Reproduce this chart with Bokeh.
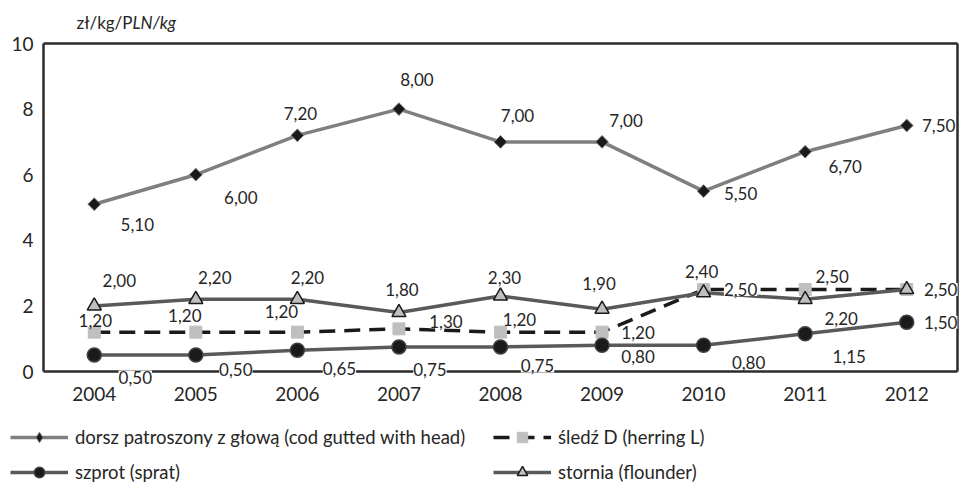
from bokeh.plotting import figure
from bokeh.models import (ColumnDataSource, LabelSet, Label, Legend, LegendItem,
                          Range1d, FixedTicker, LinearAxis)
from bokeh.core.properties import value
from bokeh.embed import file_html
from bokeh.resources import INLINE

years = ["2004", "2005", "2006", "2007", "2008", "2009", "2010", "2011", "2012"]
cod = [5.10, 6.00, 7.20, 8.00, 7.00, 7.00, 5.50, 6.70, 7.50]
herring = [1.20, 1.20, 1.20, 1.30, 1.20, 1.20, 2.50, 2.50, 2.50]
sprat = [0.50, 0.50, 0.65, 0.75, 0.75, 0.80, 0.80, 1.15, 1.50]
flounder = [2.00, 2.20, 2.20, 1.80, 2.30, 1.90, 2.40, 2.20, 2.50]
y_ticks = [0, 2, 4, 6, 8, 10]

names = {
    "cod": "dorsz patroszony z głową (cod gutted with head)",
    "herring": "śledź D (herring L)",
    "sprat": "szprot (sprat)",
    "flounder": "stornia (flounder)",
}

# data-label offsets in screen px (dx right, dy down)
off_cod = [(43, 20), (45, 23), (3, -22), (18, -30), (17, -26), (24, -21), (37, 2), (40, 15), (32, 0)]
off_flounder = [(25, -25), (19, -22), (10, -22), (3, -23), (4, -19), (-3, -26), (-2, -21), (36, 19), (34, 0)]
off_herring = [(1, -12), (-11, -17), (-16, -21), (47, -7), (19, -13), (36, 0), (37, 0), (27, -13), (34, 0)]
off_sprat = [(41, 22), (40, 14), (42, 18), (31, 23), (37, 19), (36, 11), (45, 17), (44, 23), (34, 0)]

FONT = "Lato"
TXT = "#262626"
FRAME = "#2b2b2b"

W, H = 959, 483
BOX_L, BOX_R, BOX_T, BOX_B = 43, 957, 43, 371          # plot box in px
n = len(years)
cell = (BOX_R - BOX_L) / n                              # px per category
ppu = (BOX_B - BOX_T) / 10.0                            # px per y unit
xs = list(range(n))
x_lo, x_hi = -0.5, n - 0.5                              # category band edges

p = figure(x_range=Range1d(x_lo - BOX_L / cell, x_hi + (W - BOX_R) / cell),
           y_range=Range1d(-(H - BOX_B) / ppu, 10 + BOX_T / ppu),
           width=W, height=H, output_backend="svg", toolbar_location=None,
           min_border_left=0, min_border_right=0, min_border_top=0, min_border_bottom=0)
p.background_fill_color = "white"
p.border_fill_color = "white"
p.outline_line_color = None
p.xgrid.visible = False
p.ygrid.visible = False

def style_axis(ax, labels=True):
    ax.axis_line_color = FRAME
    ax.axis_line_width = 2.5
    ax.major_tick_in = 0
    ax.major_tick_out = 0
    ax.minor_tick_in = 0
    ax.minor_tick_out = 0
    ax.major_label_text_font = FONT
    ax.major_label_text_font_size = "19px" if labels else "0px"
    ax.major_label_text_color = TXT

xa = p.xaxis[0]
ya = p.yaxis[0]
style_axis(xa)
style_axis(ya)
xa.ticker = FixedTicker(ticks=xs)
xa.major_label_overrides = {i: y for i, y in enumerate(years)}
xa.fixed_location = 0
xa.bounds = (x_lo, x_hi)
xa.major_label_standoff = 15
ya.ticker = FixedTicker(ticks=y_ticks)
ya.fixed_location = x_lo
ya.bounds = (0, 10)
ya.major_label_standoff = 10

# right and top edges of the plot box
right_ax = LinearAxis(ticker=FixedTicker(ticks=[]), fixed_location=x_hi, bounds=(0, 10))
style_axis(right_ax, labels=False)
p.add_layout(right_ax, "right")
top_ax = LinearAxis(ticker=FixedTicker(ticks=[]), fixed_location=10, bounds=(x_lo, x_hi))
style_axis(top_ax, labels=False)
p.add_layout(top_ax, "above")

def src(vals, offs):
    return ColumnDataSource(dict(
        x=xs, y=vals,
        t=[f"{v:.2f}".replace(".", ",") for v in vals],
        dx=[o[0] for o in offs], dy=[-o[1] for o in offs]))

s_cod = src(cod, off_cod)
s_her = src(herring, off_herring)
s_spr = src(sprat, off_sprat)
s_flo = src(flounder, off_flounder)

r = {}
cod_line = p.line("x", "y", source=s_cod, line_color="#7f7f7f", line_width=3.5)
cod_diamond = p.scatter("x", "y", source=s_cod, marker="diamond", size=12,
                        fill_color="#1a1a1a", line_color="#7f7f7f", line_width=1)
p.scatter("x", "y", source=s_cod, marker="square", angle=0.785, size=9,
          fill_color="#1a1a1a", line_color="#7f7f7f", line_width=1)
r["cod"] = [cod_line, cod_diamond]
r["herring"] = [p.line("x", "y", source=s_her, line_color="#1a1a1a", line_width=3.5,
                       line_dash="16 9"),
                p.scatter("x", "y", source=s_her, marker="square", size=12,
                          fill_color="#bfbfbf", line_color="#bfbfbf")]
r["sprat"] = [p.line("x", "y", source=s_spr, line_color="#595959", line_width=3.5),
              p.scatter("x", "y", source=s_spr, marker="circle", size=14,
                        fill_color="#1a1a1a", line_color="#404040", line_width=1.5)]
r["flounder"] = [p.line("x", "y", source=s_flo, line_color="#595959", line_width=3.5),
                 p.scatter("x", "y", source=s_flo, marker="triangle", size=14,
                           fill_color="#bfbfbf", line_color="#1a1a1a", line_width=1.5)]

for s in (s_cod, s_her, s_spr, s_flo):
    p.add_layout(LabelSet(x="x", y="y", text="t", source=s, x_offset="dx", y_offset="dy",
                          text_align="center", text_baseline="middle",
                          text_font=value(FONT), text_font_size="17px", text_color=TXT,
                          background_fill_color="white"))

p.add_layout(Label(x=x_lo, y=10, x_offset=89, y_offset=21, text="zł/kg/P",
                   text_align="right", text_baseline="middle",
                   text_font=FONT, text_font_size="17px", text_color=TXT))
p.add_layout(Label(x=x_lo, y=10, x_offset=89, y_offset=21, text="LN/kg",
                   text_align="left", text_baseline="middle", text_font_style="italic",
                   text_font=FONT, text_font_size="17px", text_color=TXT))

legend = Legend(items=[LegendItem(label=names[k], renderers=r[k])
                       for k in ("cod", "herring", "sprat", "flounder")],
                orientation="horizontal", ncols=2, location=(10, -2),
                glyph_width=58, glyph_height=26, label_height=26, label_standoff=7,
                label_width=409, spacing=9,
                padding=0, margin=0, border_line_color=None, background_fill_alpha=0,
                label_text_font=FONT, label_text_font_size="18.5px", label_text_color=TXT)
p.add_layout(legend)

open("out.html", "w").write(file_html(p, INLINE))
